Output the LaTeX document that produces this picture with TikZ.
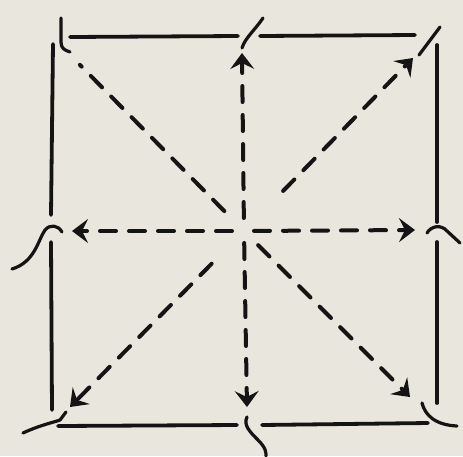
\documentclass[tikz,border=0pt]{standalone}
\usetikzlibrary{arrows.meta}
\definecolor{paper}{RGB}{233,230,221}
\definecolor{ink}{RGB}{20,20,20}
\begin{document}
\begin{tikzpicture}[x=1pt,y=-1pt, line cap=round, line join=round,
  edge/.style={ink, line width=3.8pt},
  ray/.style={ink, line width=4pt, dash pattern=on 16pt off 13pt},
  tip/.style={-{Stealth[length=16pt,width=24pt,inset=6pt,line width=1.5pt]}},
  curl/.style={ink, line width=3.2pt}]
\fill[paper] (0,0) rectangle (463,456);
\useasboundingbox (0,0) rectangle (463,456);
% centre and ray ends
\coordinate (c) at (244,231);
\coordinate (nw) at (82,67);
\coordinate (n) at (242,53);
\coordinate (ne) at (413,58);
\coordinate (w) at (72,231);
\coordinate (e) at (415,230);
\coordinate (sw) at (70,407);
\coordinate (s) at (247,407);
\coordinate (se) at (410,397);
% square sides
\draw[edge] (70,37) -- (238,36);
\draw[edge] (260,36) -- (415,35);
\draw[edge] (53,44) -- (51,215);
\draw[edge] (51,242) -- (52,410);
\draw[edge] (437,45) -- (437,222);
\draw[edge] (437,242) -- (437,403);
\draw[edge] (58,426) -- (237,425);
\draw[edge] (262,425) -- (428,423);
% curls at the ends
\draw[curl] (61,18) -- (61,42) .. controls (61,48) and (64,50) .. (70,52);
\draw[curl] (263,18) .. controls (255,30) and (245,38) .. (242,48);
\draw[curl] (440,27) -- (419,55);
\draw[curl] (12,269) .. controls (35,262) and (38,240) .. (45,230) .. controls (50,224) and (58,225) .. (62,232);
\draw[curl] (427,233) .. controls (431,226) and (441,224) .. (447,231) -- (460,243);
\draw[curl] (23,433) .. controls (40,425) and (55,422) .. (60,420) -- (66,412);
\draw[curl] (247,417) .. controls (243,425) and (250,432) .. (258,440) .. controls (266,448) and (266,452) .. (266,456);
\draw[curl] (422,403) .. controls (425,415) and (435,425) .. (457,426);
% rays
\draw[ray,shorten >=-3pt,shorten <=28pt] (c) -- (nw);
\draw[ray,tip,shorten <=13pt] (c) -- (n);
\draw[ray,tip,shorten <=56pt] (c) -- (ne);
\draw[ray,tip,shorten <=12pt] (c) -- (w);
\draw[ray,tip,shorten <=10pt] (c) -- (e);
\draw[ray,tip,shorten <=46pt] (c) -- (sw);
\draw[ray,tip,shorten <=12pt] (c) -- (s);
\draw[ray,tip,shorten <=20pt] (c) -- (se);
\end{tikzpicture}
\end{document}
